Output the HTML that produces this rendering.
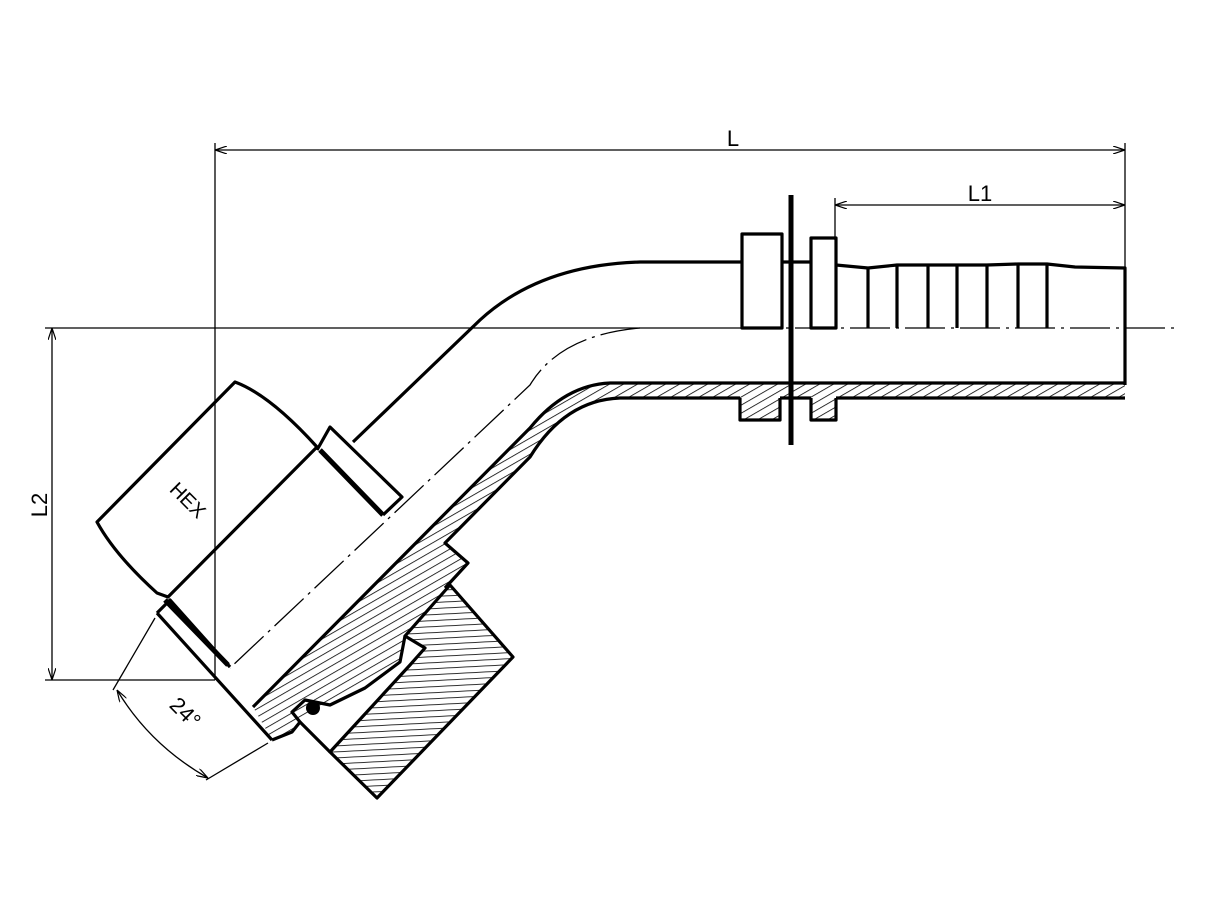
<!DOCTYPE html>
<html><head><meta charset="utf-8"><style>
html,body{margin:0;padding:0;background:#fff;}
svg{display:block;}
text{font-family:"Liberation Sans",sans-serif;fill:#000;}
</style></head><body>
<svg width="1227" height="920" viewBox="0 0 1227 920" xmlns="http://www.w3.org/2000/svg">
<defs>
<pattern id="hd" patternUnits="userSpaceOnUse" width="7" height="7" patternTransform="rotate(60)">
<line x1="0" y1="0" x2="0" y2="7" stroke="#000" stroke-width="1.6"/>
</pattern>
<pattern id="hh" patternUnits="userSpaceOnUse" width="6" height="6" patternTransform="rotate(-3)">
<line x1="0" y1="0" x2="6" y2="0" stroke="#000" stroke-width="1.6"/>
</pattern>
<marker id="ar" markerWidth="12" markerHeight="8" refX="12" refY="4" orient="auto-start-reverse" markerUnits="userSpaceOnUse">
<path d="M0,0 L12,4 L0,8" fill="none" stroke="#000" stroke-width="1.2"/>
</marker>
</defs>

<g stroke="#000" stroke-width="1.3" fill="none">
<line x1="215" y1="150" x2="1125" y2="150" marker-start="url(#ar)" marker-end="url(#ar)"/>
<line x1="215" y1="143" x2="215" y2="680"/>
<line x1="1125" y1="143" x2="1125" y2="268"/>
<line x1="835" y1="205" x2="1125" y2="205" marker-start="url(#ar)" marker-end="url(#ar)"/>
<line x1="835" y1="198" x2="835" y2="240"/>
<line x1="52" y1="328" x2="52" y2="680" marker-start="url(#ar)" marker-end="url(#ar)"/>
<line x1="45" y1="328" x2="740" y2="328"/>
<line x1="45" y1="680" x2="215" y2="680"/>
<line x1="155" y1="618" x2="113" y2="690"/>
<line x1="268" y1="743" x2="206" y2="780"/>
<path d="M117,690 Q150,745 208,778" marker-start="url(#ar)" marker-end="url(#ar)"/>
</g>
<line x1="740" y1="328" x2="1178" y2="328" stroke="#000" stroke-width="1.3" stroke-dasharray="40,6,3,6"/>
<path d="M640,328 Q560,335 530,385 L230,668" stroke="#000" stroke-width="1.3" fill="none" stroke-dasharray="40,6,3,6"/>

<text x="733" y="146" font-size="22" text-anchor="middle">L</text>
<text x="980" y="201" font-size="22" text-anchor="middle">L1</text>
<text transform="translate(47,505) rotate(-90)" font-size="22" text-anchor="middle">L2</text>
<text transform="translate(180,718) rotate(45)" font-size="22" text-anchor="middle">24°</text>
<text transform="translate(183,505) rotate(45)" font-size="20" text-anchor="middle">HEX</text>

<path d="M1125,383 L610,383 Q565,385 530,428 L253,707 L272,740 L292,732 L300,722 L330,705 L365,688 L400,662 L405,636 L445,590 L457,575 L468,563 L445,543 L530,457 Q565,400 620,398 L740,398 L740,420 L780,420 L780,398 L811,398 L811,420 L836,420 L836,398 L1125,398 Z" fill="url(#hd)" stroke="none"/>
<g stroke="#000" stroke-width="3.2" fill="none" stroke-linejoin="round">
<path d="M1125,383 L610,383 Q565,385 530,428 L253,707"/>
<path d="M1125,398 L836,398 M811,398 L780,398 M740,398 L620,398 Q565,400 530,457 L445,543 L468,563 L457,575 L445,588"/>
<path d="M742,262 L640,262 Q540,265 480,320 L353,442"/>
<rect x="742" y="234" width="40" height="94"/>
<rect x="811" y="238" width="25" height="90"/>
<path d="M740,398 L740,420 L780,420 L780,398 M811,398 L811,420 L836,420 L836,398"/>
<line x1="782" y1="262" x2="811" y2="262"/>
<line x1="791" y1="195" x2="791" y2="445" stroke-width="5"/>
<path d="M836,265 L868,268 L897,265 L928,265 L957,265 L987,265 L1018,264 L1047,264 L1075,267 L1125,268 L1125,385"/>
<path d="M868,268 V328 M897,265 V328 M928,265 V328 M957,265 V328 M987,265 V328 M1018,264 V328 M1047,264 V328"/>
<path d="M235,382 Q270,395 317,447 L168,597 L157,593 Q115,555 97,522 Z"/>
<path d="M317,450 L330,427 L402,497 L383,515"/>
<path d="M320,450 L383,515" stroke-width="5"/>
<path d="M157,613 L170,600 L230,667" />
<path d="M165,600 L228,665" stroke-width="5"/>
<path d="M157,613 L272,740"/>
<path d="M272,740 L292,732 L300,722 L292,712 L305,700 L330,705 L365,688 L400,662 L405,636"/>
<path d="M300,722 L330,752"/>
</g>
<path d="M450,585 L513,657 L377,798 L330,752 L410,665 L425,648 L405,636 Z" fill="url(#hh)" stroke="#000" stroke-width="3.2" stroke-linejoin="round"/>
<circle cx="313" cy="708" r="7" fill="#000"/>
</svg>
</body></html>
